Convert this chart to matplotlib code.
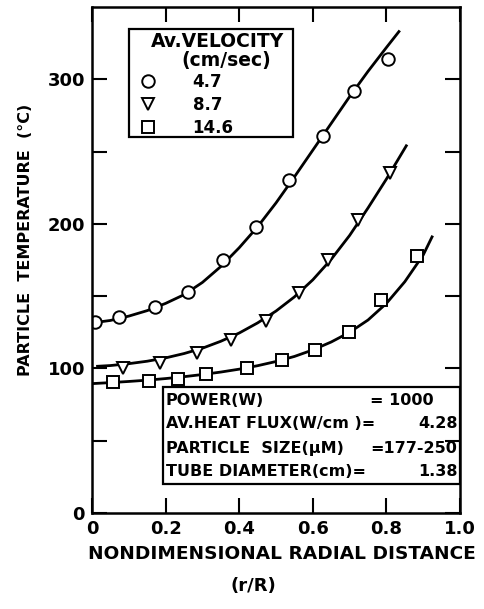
import numpy as np
import matplotlib
matplotlib.use("Agg")
import matplotlib.pyplot as plt
from matplotlib.patches import Rectangle

# marker values (r/R, deg C)
circ_x = [0.008, 0.072, 0.171, 0.262, 0.357, 0.446, 0.536, 0.627, 0.713, 0.803]
circ_y = [132, 135.5, 142.5, 153, 175, 198, 230, 261, 292, 314]
tri_x = [0.083, 0.186, 0.284, 0.377, 0.472, 0.563, 0.642, 0.722, 0.809]
tri_y = [100.5, 104, 110.5, 119.5, 133, 152, 175, 203, 235]
sq_x = [0.056, 0.155, 0.234, 0.31, 0.421, 0.515, 0.607, 0.697, 0.786, 0.883]
sq_y = [90.5, 91.5, 93, 96, 100.5, 106, 113, 125, 147.5, 178]

# fitted curves
circ_cx = [0, 0.05, 0.1, 0.15, 0.2, 0.25, 0.3, 0.35, 0.4, 0.45, 0.5, 0.55, 0.6,
           0.65, 0.7, 0.75, 0.8, 0.834]
circ_cy = [131.5, 133.2, 136.2, 140, 145, 151, 159.5, 170.5, 183.5, 198, 214.5,
           232.5, 251, 269.5, 288, 305.5, 322, 333]
tri_cx = [0.015, 0.05, 0.1, 0.15, 0.2, 0.25, 0.3, 0.35, 0.4, 0.45, 0.5, 0.55, 0.6,
          0.65, 0.7, 0.75, 0.8, 0.854]
tri_cy = [101.5, 102, 103.3, 105, 107.3, 110.3, 114, 118.8, 124.5, 131.5, 139.7, 149.5,
          161.3, 175.5, 192, 211, 231, 254]
sq_cx = [0, 0.05, 0.1, 0.15, 0.2, 0.25, 0.3, 0.35, 0.4, 0.45, 0.5, 0.55, 0.6, 0.65,
         0.7, 0.75, 0.8, 0.85, 0.9, 0.924]
sq_cy = [89.5, 90.2, 91, 91.9, 93, 94.3, 95.8, 97.5, 99.5, 101.9, 104.8, 108.3, 112.8,
         118.3, 125, 133.5, 145, 160, 178.5, 191]

velocities = ['4.7', '8.7', '14.6']
legend_title = ['Av.VELOCITY', '(cm/sec)']

cond_labels = ['POWER(W)', 'AV.HEAT FLUX(W/cm )=', 'PARTICLE  SIZE(\u03bcM)', 'TUBE DIAMETER(cm)=']
cond_values = ['= 1000', '4.28', '=177-250', '1.38']

xticks = [0, 0.2, 0.4, 0.6, 0.8, 1.0]
xticklabels = ['0', '0.2', '0.4', '0.6', '0.8', '1.0']
yticks = [0, 50, 100, 150, 200, 250, 300]
yticklabels = ['0', '', '100', '', '200', '', '300']

plt.rcParams['font.family'] = 'DejaVu Sans'
plt.rcParams['font.weight'] = 'bold'

fig = plt.figure(figsize=(4.85, 6.09), dpi=100)
ax = fig.add_axes([0.1897, 0.1576, 0.7588, 0.8309])

lw = 2.0
ax.plot(circ_cx, circ_cy, '-', color='k', lw=lw)
ax.plot(tri_cx, tri_cy, '-', color='k', lw=lw)
ax.plot(sq_cx, sq_cy, '-', color='k', lw=lw)
mk = dict(linestyle='none', mfc='white', mec='k', mew=1.4, ms=9)
ax.plot(circ_x, circ_y, marker='o', label=velocities[0], **mk)
ax.plot(tri_x, tri_y, marker='v', label=velocities[1], **mk)
ax.plot(sq_x, sq_y, marker='s', label=velocities[2], **mk)

ax.set_xlim(0, 1.0)
ax.set_ylim(0, 350)
ax.set_xticks(xticks)
ax.set_xticklabels(xticklabels)
ax.set_yticks(yticks)
ax.set_yticklabels(yticklabels)
ax.tick_params(direction='in', length=11, width=1.5, top=True, right=True,
               labelsize=13, pad=5)
for s in ax.spines.values():
    s.set_linewidth(1.8)

ax.set_ylabel('PARTICLE  TEMPERATURE  (\u00b0C)', fontsize=11.5, fontweight='bold')
ax.yaxis.set_label_coords(-0.160, 0.54)
ax.set_xlabel('NONDIMENSIONAL RADIAL DISTANCE', fontsize=13.3, fontweight='bold')
ax.xaxis.set_label_coords(0.516, -0.064)
fig.text(0.523, 0.038, '(r/R)', fontsize=13, fontweight='bold', ha='center', va='center')

# velocity legend: frame and title drawn by hand, entries by legend()
ax.add_patch(Rectangle((0.1005, 0.743), 0.4455, 0.2135, transform=ax.transAxes,
                       fill=False, ec='k', lw=1.6, zorder=5))
ax.text(0.342, 0.931, legend_title[0], transform=ax.transAxes, fontsize=13.5,
        fontweight='bold', ha='center', va='center')
ax.text(0.364, 0.894, legend_title[1], transform=ax.transAxes, fontsize=13.5,
        fontweight='bold', ha='center', va='center')
leg = ax.legend(loc='upper left', bbox_to_anchor=(0.1285, 0.869), frameon=False,
                fontsize=12, handletextpad=2.2, labelspacing=0.3,
                borderpad=0, handlelength=1.0, borderaxespad=0)

# operating conditions box
ax.add_patch(Rectangle((0.192, 0.057), 0.808, 0.192, transform=ax.transAxes,
                       fill=False, ec='k', lw=1.6, zorder=5))
row_y = [0.222, 0.176, 0.127, 0.082]
for lab, val, yy in zip(cond_labels, cond_values, row_y):
    ax.text(0.201, yy, lab, transform=ax.transAxes, fontsize=11.5,
            fontweight='bold', va='center', ha='left')
    if val.startswith('= '):
        ax.text(0.755, yy, val, transform=ax.transAxes, fontsize=11.5,
                fontweight='bold', va='center', ha='left')
    else:
        ax.text(0.993, yy, val, transform=ax.transAxes, fontsize=11.5,
                fontweight='bold', va='center', ha='right')

fig.savefig('out.png', dpi=100)
